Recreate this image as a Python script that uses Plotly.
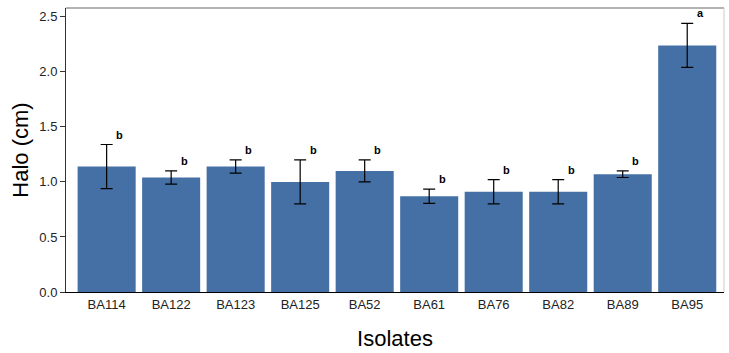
import plotly.graph_objects as go

isolates = ["BA114", "BA122", "BA123", "BA125", "BA52", "BA61", "BA76", "BA82", "BA89", "BA95"]
halo = [1.14, 1.04, 1.14, 1.00, 1.10, 0.87, 0.91, 0.91, 1.07, 2.24]
err = [0.20, 0.06, 0.06, 0.20, 0.10, 0.065, 0.11, 0.11, 0.03, 0.20]
letters = ["b", "b", "b", "b", "b", "b", "b", "b", "b", "a"]

fig = go.Figure()
fig.add_trace(go.Bar(
    x=isolates, y=halo, width=0.9,
    marker=dict(color="#4470a5", line=dict(width=0)),
    error_y=dict(type="data", array=err, visible=True, color="black", thickness=1.2, width=6),
))
for iso, h, e, l in zip(isolates, halo, err, letters):
    fig.add_annotation(x=iso, y=h + e, text="<b>" + l + "</b>", showarrow=False,
                       xshift=13, yshift=10,
                       font=dict(family="Liberation Sans, Arial", size=11, color="black"))

fig.update_layout(
    width=729, height=353,
    margin=dict(l=66, r=5, t=8, b=61),
    paper_bgcolor="white", plot_bgcolor="white",
    showlegend=False,
    font=dict(family="Liberation Sans, Arial", color="#222"),
    xaxis=dict(
        title=dict(text="Isolates", font=dict(size=22, color="black"), standoff=20),
        range=[-0.63, 9.57], showline=True, linecolor="black", linewidth=1,
        ticks="", tickfont=dict(size=13, color="#222"), showgrid=False,
    ),
    yaxis=dict(
        title=dict(text="Halo (cm)", font=dict(size=22, color="black"), standoff=4),
        range=[0, 2.58], tickvals=[0, 0.5, 1.0, 1.5, 2.0, 2.5],
        ticktext=["0.0", "0.5", "1.0", "1.5", "2.0", "2.5"],
        showline=True, linecolor="#333", linewidth=1,
        ticks="outside", ticklen=5, tickcolor="#333",
        tickfont=dict(size=13, color="#222"), showgrid=False, zeroline=False,
    ),
)
fig.add_shape(type="line", xref="paper", yref="paper", x0=0, x1=1, y0=1, y1=1,
              line=dict(color="#666", width=1))
fig.add_shape(type="line", xref="paper", yref="paper", x0=1, x1=1, y0=0, y1=1,
              line=dict(color="#ccc", width=1))

fig.write_html("out.html")
